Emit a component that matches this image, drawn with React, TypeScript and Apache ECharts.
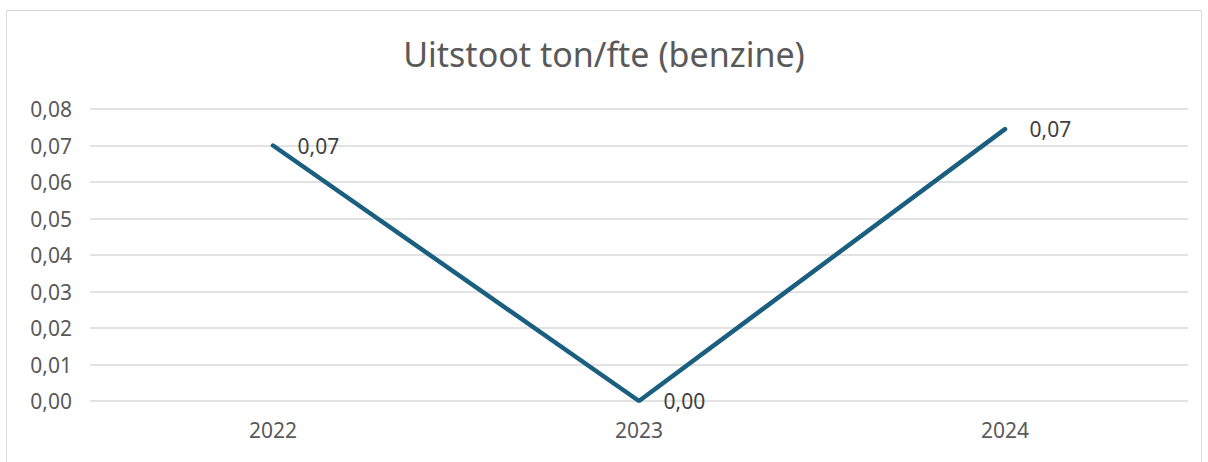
import React, { useEffect, useRef } from "react";
import * as echarts from "echarts";

const categories = ["2022", "2023", "2024"];
const values = [0.07, 0.0, 0.0745];
const valueLabels = ["0,07", "0,00", "0,07"];
const title = "Uitstoot ton/fte (benzine)";

export default function App() {
  const ref = useRef<HTMLDivElement>(null);
  useEffect(() => {
    if (!ref.current) return;
    const chart = echarts.init(ref.current, undefined, { renderer: "svg" });
    const font = "'Noto Sans', 'Open Sans', sans-serif";
    chart.setOption({
      animation: false,
      backgroundColor: "#ffffff",
      textStyle: { fontFamily: font },
      title: {
        text: title,
        left: "center",
        top: 32,
        textStyle: { fontSize: 34, fontWeight: "normal", color: "#595959", fontFamily: font },
      },
      graphic: [
        {
          type: "rect",
          shape: { x: 6.5, y: 10.5, width: 1195, height: 470 },
          style: { fill: "none", stroke: "#d9d9d9", lineWidth: 1 },
          silent: true,
        },
      ],
      grid: { left: 90, right: 20, top: 109, bottom: 61, containLabel: false },
      xAxis: {
        type: "category",
        data: categories,
        boundaryGap: true,
        axisLine: { show: false },
        axisTick: { show: false },
        axisLabel: { color: "#595959", fontSize: 21, margin: 18, fontFamily: font },
      },
      yAxis: {
        type: "value",
        min: 0,
        max: 0.08,
        interval: 0.01,
        axisLine: { show: false },
        axisTick: { show: false },
        splitLine: { lineStyle: { color: "#d9d9d9", width: 1.5 } },
        axisLabel: {
          color: "#595959",
          fontSize: 21,
          margin: 18,
          fontFamily: font,
          formatter: (v: number) => v.toFixed(2).replace(".", ","),
        },
      },
      series: [
        {
          type: "line",
          data: values,
          symbol: "circle",
          symbolSize: 1,
          showSymbol: true,
          itemStyle: { color: "#1a5f80" },
          lineStyle: { color: "#1a5f80", width: 4.5, cap: "round" },
          label: {
            show: true,
            position: "right",
            distance: 24,
            color: "#404040",
            fontSize: 21,
            fontFamily: font,
            formatter: (p: any) => valueLabels[p.dataIndex],
          },
        },
      ],
    });
    return () => chart.dispose();
  }, []);
  return (
    <div
      ref={ref}
      style={{ position: "fixed", left: 0, top: 0, width: 1208, height: 462 }}
    />
  );
}
